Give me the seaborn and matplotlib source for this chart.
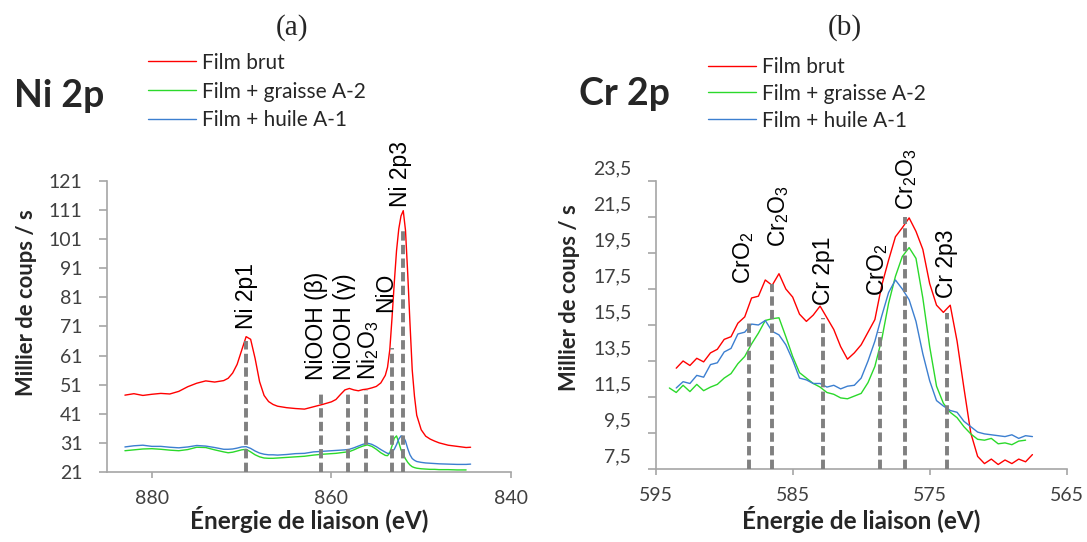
import numpy as np
import matplotlib
matplotlib.use("Agg")
import matplotlib.pyplot as plt
import matplotlib.transforms as mtransforms
import seaborn as sns

sns.set_style("white")
plt.rcParams['font.family'] = ['Lato', 'DejaVu Sans']
plt.rcParams['mathtext.fontset'] = 'custom'
plt.rcParams['mathtext.rm'] = 'Liberation Sans'
plt.rcParams['mathtext.it'] = 'Liberation Sans:italic'

RED = '#ff0000'
GREEN = '#2bd92b'
BLUE = '#3c7fd0'
DASH = '#808080'
SPINE = '#a6a6a6'
TICKC = '#404040'

series_names = ['Film brut', 'Film + graisse A-2', 'Film + huile A-1']

# ---- Ni 2p (a) ----
ni_energy = [883, 882, 881, 880, 879, 878, 877, 876, 875, 874, 873, 872,
             871.5, 871, 870.5, 870, 869.5, 869, 868.5, 868, 867.5, 867, 866.5, 866,
             865, 864, 863, 862, 861, 860,
             859.5, 859, 858.5, 858, 857.5, 857, 856.5, 856, 855.5, 855, 854.5, 854,
             853.75, 853.5, 853.25, 853, 852.75, 852.5, 852.25, 852, 851.75, 851.5,
             851.25, 851, 850.75, 850.5,
             850, 849.5, 849, 848.5, 848, 847, 846, 845, 844.5]
ni_brut = [47.4, 47.9, 47.3, 47.7, 48.0, 47.8, 48.7, 50.3, 51.5, 52.3, 51.9, 52.4,
           53.2, 55.0, 58.0, 62.8, 67.5, 66.6, 60.0, 52.0, 47.3, 45.2, 44.2, 43.6,
           43.1, 42.8, 42.6, 43.4, 44.2, 45.1,
           45.9, 47.6, 49.2, 49.7, 49.2, 48.9, 49.3, 49.5, 49.9, 50.4, 51.6, 54.2,
           57.0, 63.0, 74.0, 86.0, 97.0, 104.5, 109.0, 110.8, 104.0, 89.0,
           72.0, 56.0, 47.0, 40.5,
           35.5, 33.3, 32.3, 31.6, 31.0, 30.2, 29.8, 29.4, 29.5]
ni_graisse = [28.3, 28.6, 28.9, 29.0, 28.8, 28.5, 28.3, 28.7, 29.5, 29.4, 28.6, 27.9,
              27.6, 27.8, 28.2, 28.6, 28.8, 27.9, 26.9, 26.2, 25.8, 25.7, 25.7, 25.8,
              26.0, 26.2, 26.4, 26.8, 27.1, 27.3,
              27.4, 27.6, 27.8, 28.0, 28.6, 29.3, 29.9, 30.3, 29.8, 28.8, 27.6, 26.7,
              26.6, 27.6, 30.0, 32.6, 33.4, 31.2, 28.6, 27.0, 25.5, 24.3,
              23.4, 22.8, 22.5, 22.3,
              22.1, 22.0, 21.9, 21.9, 21.8, 21.8, 21.7, 21.7, np.nan]
ni_huile = [29.6, 30.0, 30.2, 29.8, 29.8, 29.5, 29.3, 29.6, 30.1, 29.9, 29.4, 28.8,
            28.8, 28.9, 29.2, 29.6, 29.7, 29.1, 28.2, 27.5, 27.1, 26.9, 26.9, 26.8,
            27.0, 27.3, 27.4, 27.9, 28.1, 28.3,
            28.4, 28.5, 28.6, 28.8, 29.3, 29.9, 30.5, 30.9, 30.5, 29.7, 28.7, 27.8,
            27.4, 27.4, 27.9, 28.8, 30.4, 32.3, 33.4, 33.2, 31.6, 29.0,
            26.9, 25.6, 25.0, 24.6,
            24.3, 24.1, 24.0, 23.9, 23.8, 23.7, 23.6, 23.6, 23.7]

ni_peaks = ['Ni 2p1', 'NiOOH (β)', 'NiOOH (γ)', r'Ni$_2$O$_3$', 'NiO', 'Ni 2p3']
ni_peak_energy = [869.5, 861.2, 858.2, 856.1, 853.3, 852.0]
ni_peak_top = [66.0, 48.2, 48.0, 49.2, 63.6, 104.0]
ni_yticks = [21, 31, 41, 51, 61, 71, 81, 91, 101, 111, 121]
ni_xticks = [880, 860, 840]

# ---- Cr 2p (b) ----
cr_energy = [594.0, 593.5, 593.0, 592.5, 592.0, 591.5, 591.0, 590.5, 590.0, 589.5,
             589.0, 588.5, 588.0, 587.5, 587.0, 586.5, 586.0, 585.5, 585.0, 584.5,
             584.0, 583.5, 583.0, 582.5, 582.0, 581.5, 581.0, 580.5, 580.0, 579.5,
             579.0, 578.5, 578.0, 577.5, 577.0, 576.5, 576.0, 575.5, 575.0, 574.5,
             574.0, 573.5, 573.0, 572.5, 572.0, 571.5, 571.0, 570.5, 570.0, 569.5,
             569.0, 568.5, 568.0, 567.5]
cr_brut = [np.nan, 13.1, 13.5, 13.25, 13.65, 13.45, 13.95, 14.15, 14.7, 14.85,
           15.6, 15.95, 17.0, 17.1, 18.0, 17.7, 18.35, 17.5, 17.05, 16.1,
           15.7, 16.05, 16.55, 15.9, 15.25, 14.3, 13.6, 13.95, 14.4, 15.1,
           15.8, 17.7, 19.1, 20.4, 20.9, 21.45, 20.7, 19.7, 17.8, 16.6,
           16.2, 16.6, 14.6, 12.0, 9.5, 8.2, 7.8, 8.05, 7.75, 8.0,
           7.8, 8.05, 7.9, 8.3]
cr_graisse = [12.0, 11.75, 12.15, 11.8, 12.2, 11.85, 12.05, 12.2, 12.55, 12.8,
              13.35, 13.75, 14.45, 15.05, 15.75, 15.85, 15.9, 14.85, 13.75, 12.85,
              12.55, 12.25, 12.05, 11.75, 11.65, 11.45, 11.4, 11.55, 11.7, 12.3,
              13.2, 14.7, 16.7, 18.2, 19.3, 19.8, 19.2, 17.0, 14.3, 12.1,
              11.15, 10.65, 10.35, 9.85, 9.45, 9.15, 9.1, 9.2, 8.9, 8.95,
              8.85, 9.05, 9.1, np.nan]
cr_huile = [np.nan, 12.0, 12.35, 12.25, 12.7, 12.6, 13.3, 13.4, 14.0, 14.2,
            15.0, 15.1, 15.55, 15.5, 15.75, 15.15, 14.95, 14.4, 13.55, 12.55,
            12.45, 12.25, 12.25, 12.05, 12.15, 11.95, 12.1, 12.15, 12.55, 13.5,
            14.6, 16.0, 17.3, 18.0, 17.5, 16.9, 15.7, 13.9, 12.4, 11.3,
            11.0, 10.75, 10.65, 10.15, 9.85, 9.55, 9.45, 9.4, 9.35, 9.3,
            9.4, 9.2, 9.35, 9.3]

cr_peaks = [r'CrO$_2$', r'Cr$_2$O$_3$', 'Cr 2p1', r'CrO$_2$', r'Cr$_2$O$_3$', 'Cr 2p3']
cr_peak_energy = [588.2, 586.5, 582.8, 578.6, 576.8, 573.7]
cr_peak_top = [15.7, 17.8, 15.9, 15.1, 21.5, 16.15]
cr_yticks = [7.5, 9.5, 11.5, 13.5, 15.5, 17.5, 19.5, 21.5, 23.5]
cr_yticklabels = ['7,5', '9,5', '11,5', '13,5', '15,5', '17,5', '19,5', '21,5', '23,5']
cr_xticks = [595, 585, 575, 565]

# label placement (bottom of rotated text, in data units) and x nudge in px
ni_label_base = [70.0, 52.6, 52.6, 52.6, 76.0, 112.2]
ni_label_dx = [0, -4, -3, 2, -6, -3]
cr_label_base = [17.8, 19.85, 16.6, 17.1, 21.9, 17.0]
cr_label_dx = [-5, 6, 1, -3, 2, -1]

fig = plt.figure(figsize=(10.87, 5.42), dpi=100)
ax1 = fig.add_axes([0.0984, 0.1292, 0.3717, 0.5369])
ax2 = fig.add_axes([0.6032, 0.1347, 0.3781, 0.5314])


def draw_panel(ax, energy, curves, peaks, peak_e, peak_top, ybottom, base, dx):
    for vals, name, col in zip(curves, series_names, [RED, GREEN, BLUE]):
        sns.lineplot(x=energy, y=vals, ax=ax, color=col, lw=1.0, label=name,
                     estimator=None, zorder=2)
    ax.vlines(peak_e, ybottom, peak_top, colors=DASH, lw=2.8,
              linestyles=(0, (2.4, 1.1)), zorder=3)
    for name, e, b, d in zip(peaks, peak_e, base, dx):
        ax.annotate(name, xy=(e, b), xytext=(d * 0.72, 0), textcoords='offset points',
                    rotation=90, ha='center', va='bottom', fontsize=16.5,
                    family='Liberation Sans', color='black')
    for s in ['top', 'right']:
        ax.spines[s].set_visible(False)
    for s in ['left', 'bottom']:
        ax.spines[s].set_color(SPINE)
        ax.spines[s].set_linewidth(1.2)
    ax.tick_params(axis='y', direction='out', length=5.5, width=1.2, color=SPINE,
                   labelsize=14, labelcolor=TICKC, pad=12, left=True)
    ax.tick_params(axis='x', direction='out', length=4, width=1.2, color=SPINE,
                   labelsize=14, labelcolor=TICKC, pad=9, bottom=True)
    ax.set_xlabel('Énergie de liaison (eV)', fontsize=17.5, fontweight='bold')
    ax.xaxis.label.set_va('baseline')
    ax.set_ylabel('Millier de coups / s', fontsize=15.8, fontweight='bold')
    ax.grid(False)


draw_panel(ax1, ni_energy, [ni_brut, ni_graisse, ni_huile], ni_peaks,
           ni_peak_energy, ni_peak_top, 21, ni_label_base, ni_label_dx)
ax1.set_xlim(885, 840)
ax1.set_ylim(21, 121)
ax1.set_xticks(ni_xticks)
ax1.set_yticks(ni_yticks)
ax1.xaxis.set_label_coords(0.5, -0.196)
ax1.yaxis.set_label_coords(-0.173, 0.581)

draw_panel(ax2, cr_energy, [cr_brut, cr_graisse, cr_huile], cr_peaks,
           cr_peak_energy, cr_peak_top, 7.5, cr_label_base, cr_label_dx)
ax2.set_xlim(595, 565)
ax2.set_ylim(7.5, 23.5)
ax2.set_xticks(cr_xticks)
ax2.set_yticks(cr_yticks)
ax2.set_yticklabels(cr_yticklabels)
ax2.xaxis.set_label_coords(0.5, -0.208)
ax2.yaxis.set_label_coords(-0.184, 0.594)
# Excel placed the value labels a bit above their tick marks
shift = mtransforms.ScaledTranslation(0, 0.14, fig.dpi_scale_trans)
for lab in ax2.get_yticklabels():
    lab.set_transform(lab.get_transform() + shift)

for ax, anchor, sp in [(ax1, (0.136, 0.903), 0.43), (ax2, (0.6513, 0.895), 0.33)]:
    h, l = ax.get_legend_handles_labels()
    ax.legend(h, l, loc='upper left', bbox_to_anchor=anchor,
              bbox_transform=fig.transFigure, frameon=False, borderpad=0,
              borderaxespad=0, fontsize=15, handlelength=2.3, handletextpad=0.3,
              labelspacing=sp, labelcolor='#262626')

fig.text(14 / 1087, 1 - 107 / 542, 'Ni 2p', fontsize=27, fontweight='bold', va='baseline')
fig.text(579 / 1087, 1 - 105 / 542, 'Cr 2p', fontsize=27, fontweight='bold', va='baseline')
fig.text(292 / 1087, 1 - 28 / 542, '(a)', family='Liberation Serif', fontsize=21,
         ha='center', va='center')
fig.text(845 / 1087, 1 - 28 / 542, '(b)', family='Liberation Serif', fontsize=21,
         ha='center', va='center')

fig.savefig('out.png', dpi=100)
